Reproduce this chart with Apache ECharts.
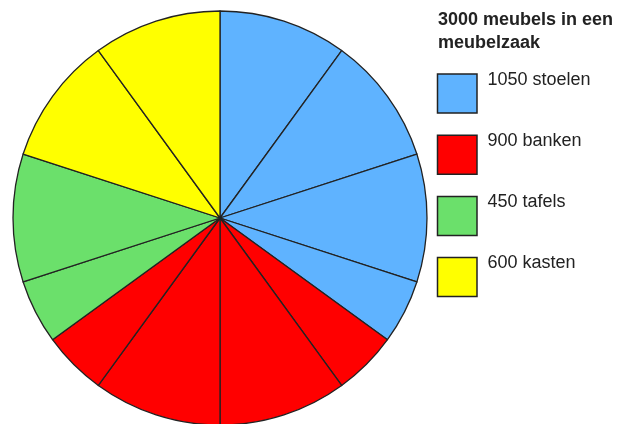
<!DOCTYPE html>
<html>
<head>
<meta charset="utf-8">
<script src="https://cdn.jsdelivr.net/npm/echarts@6/dist/echarts.min.js"></script>
<style>
html,body{margin:0;padding:0;background:#fff;}
#c{width:629px;height:424px;}
</style>
</head>
<body>
<div id="c"></div>
<script>
var titleText = '3000 meubels in een\nmeubelzaak';
var categories = ['stoelen', 'banken', 'tafels', 'kasten'];
var totals = [1050, 900, 450, 600];
var colors = ['#5fb3ff', '#ff0000', '#6be06b', '#ffff00'];
// slice pieces per category, as drawn (each full piece = 300 meubels)
var stoelenParts = [300, 300, 300, 150];
var bankenParts = [150, 300, 300, 150];
var tafelsParts = [150, 300];
var kastenParts = [300, 300];

var partsList = [stoelenParts, bankenParts, tafelsParts, kastenParts];
var pieData = [];
partsList.forEach(function (parts, ci) {
  parts.forEach(function (v, pi) {
    pieData.push({
      name: categories[ci] + ' ' + (pi + 1),
      value: v,
      itemStyle: { color: colors[ci] }
    });
  });
});

var graphics = [];
categories.forEach(function (cat, i) {
  var top = 74 + i * 61.2;
  graphics.push({
    type: 'rect',
    shape: { x: 437.5, y: top, width: 39.5, height: 39 },
    style: { fill: colors[i], stroke: '#222', lineWidth: 1.5 }
  });
  graphics.push({
    type: 'text',
    x: 487.5,
    y: top + 5.8,
    style: {
      text: totals[i] + ' ' + cat,
      fill: '#222',
      font: '18px "Liberation Sans", Arial, sans-serif',
      verticalAlign: 'middle',
      align: 'left'
    }
  });
});

var chart = echarts.init(document.getElementById('c'), null, { renderer: 'canvas' });
chart.setOption({
  animation: false,
  title: {
    text: titleText,
    left: 433,
    top: 3.5,
    textStyle: {
      fontFamily: '"Liberation Sans", Arial, sans-serif',
      fontSize: 18,
      fontWeight: 'bold',
      color: '#222',
      lineHeight: 23
    }
  },
  series: [{
    type: 'pie',
    center: [220, 218],
    radius: [0, 207],
    startAngle: 90,
    clockwise: true,
    label: { show: false },
    labelLine: { show: false },
    emphasis: { disabled: true },
    itemStyle: { borderColor: '#222', borderWidth: 1.3 },
    data: pieData
  }],
  graphic: graphics
});
</script>
</body>
</html>
